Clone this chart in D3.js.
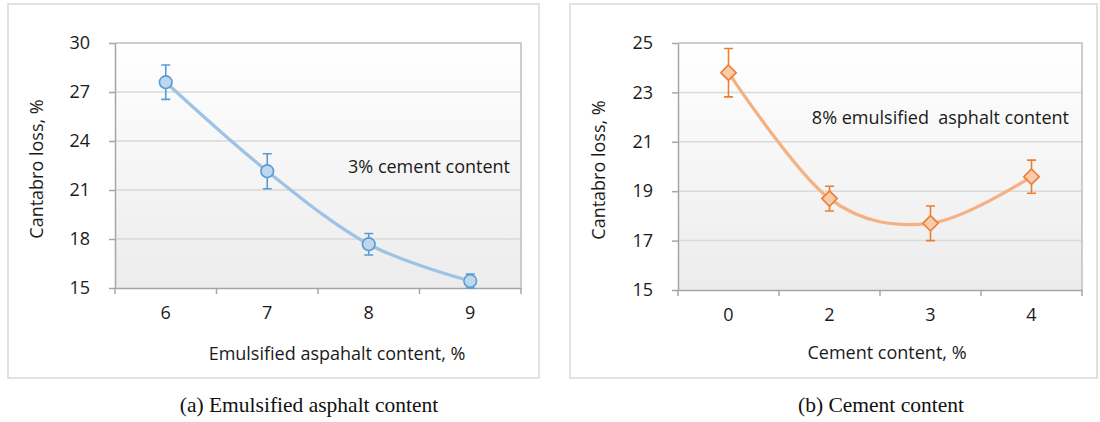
<!DOCTYPE html>
<html>
<head>
<meta charset="utf-8">
<script src="https://cdn.jsdelivr.net/npm/d3@7/dist/d3.min.js"></script>
<style>
  html, body { margin: 0; padding: 0; background: #fff; }
  svg { display: block; }
</style>
</head>
<body>
<svg id="chart" width="1100" height="422"></svg>
<script>
// Cantabro loss vs emulsified asphalt content (3% cement)
const asphaltLevels = ["6", "7", "8", "9"];
const lossByAsphalt = [27.6, 22.15, 17.68, 15.43];
const errByAsphalt = [1.05, 1.07, 0.66, 0.43];
const asphaltTicks = [15, 18, 21, 24, 27, 30];

// Cantabro loss vs cement content (8% emulsified asphalt)
const cementLevels = ["0", "2", "3", "4"];
const lossByCement = [23.8, 18.7, 17.7, 19.59];
const errByCement = [0.98, 0.5, 0.7, 0.67];
const cementTicks = [15, 17, 19, 21, 23, 25];

const svg = d3.select("#chart");
const FONT = "'Open Sans', 'Noto Sans', sans-serif";

const defs = svg.append("defs");
const grad = defs.append("linearGradient")
  .attr("id", "plotBg").attr("x1", 0).attr("y1", 0).attr("x2", 0).attr("y2", 1);
grad.append("stop").attr("offset", "0%").attr("stop-color", "#ffffff");
grad.append("stop").attr("offset", "100%").attr("stop-color", "#ececec");

function drawPanel(cfg) {
  const g = svg.append("g");

  // outer frame
  g.append("rect")
    .attr("x", cfg.frame[0]).attr("y", cfg.frame[1])
    .attr("width", cfg.frame[2]).attr("height", cfg.frame[3])
    .attr("fill", "#fff").attr("stroke", "#d9d9d9").attr("stroke-width", 1.5);

  const x = d3.scaleBand().domain(cfg.categories).range([cfg.left, cfg.right]);
  const y = d3.scaleLinear().domain(cfg.domain).range([cfg.bottom, cfg.top]);

  // plot area background
  g.append("rect")
    .attr("x", cfg.left).attr("y", cfg.top)
    .attr("width", cfg.right - cfg.left).attr("height", cfg.bottom - cfg.top)
    .attr("fill", "url(#plotBg)");

  // gridlines
  g.append("g").selectAll("line").data(cfg.ticks.slice(1, -1)).join("line")
    .attr("x1", cfg.left).attr("x2", cfg.right)
    .attr("y1", d => y(d)).attr("y2", d => y(d))
    .attr("stroke", "#d9d9d9").attr("stroke-width", 1.5);

  // top and right border of the plot area
  g.append("path")
    .attr("d", `M${cfg.left},${y(cfg.domain[1])}H${cfg.right}V${cfg.bottom}`)
    .attr("fill", "none").attr("stroke", "#bfbfbf").attr("stroke-width", 1.5);

  // y axis
  const yAxis = g.append("g").attr("transform", `translate(${cfg.left},0)`)
    .call(d3.axisLeft(y).tickValues(cfg.ticks).tickSize(6).tickPadding(19).tickSizeOuter(0));
  yAxis.select(".domain").attr("stroke", "#a6a6a6").attr("stroke-width", 1.5);
  yAxis.selectAll(".tick line").attr("stroke", "#a6a6a6").attr("stroke-width", 1.5);
  yAxis.selectAll(".tick text")
    .attr("font-family", FONT).attr("font-size", 18).attr("fill", "#1a1a1a");

  // x axis: ticks sit between categories
  const xAxis = g.append("g").attr("transform", `translate(0,${cfg.bottom})`)
    .call(d3.axisBottom(x).tickSize(0).tickPadding(18));
  xAxis.select(".domain").attr("stroke", "#a6a6a6").attr("stroke-width", 1.5);
  xAxis.selectAll(".tick text")
    .attr("font-family", FONT).attr("font-size", 18).attr("fill", "#1a1a1a");
  const bounds = cfg.categories.map(c => x(c)).concat([x.range()[1]]);
  xAxis.selectAll(".sep").data(bounds).join("line").attr("class", "sep")
    .attr("x1", d => d).attr("x2", d => d).attr("y1", 0).attr("y2", 6)
    .attr("stroke", "#a6a6a6").attr("stroke-width", 1.5);

  // axis titles
  g.append("text")
    .attr("x", cfg.xTitlePos[0]).attr("y", cfg.xTitlePos[1])
    .attr("text-anchor", "middle").attr("dominant-baseline", "central")
    .attr("font-family", FONT).attr("font-size", 18).attr("fill", "#1a1a1a")
    .text(cfg.xTitle);
  g.append("text")
    .attr("transform", `translate(${cfg.yTitlePos[0]},${cfg.yTitlePos[1]}) rotate(-90)`)
    .attr("text-anchor", "middle").attr("dominant-baseline", "central")
    .attr("font-family", FONT).attr("font-size", 18).attr("fill", "#1a1a1a")
    .text("Cantabro loss, %");

  // note inside the plot
  g.append("text")
    .attr("x", cfg.notePos[0]).attr("y", cfg.notePos[1])
    .attr("text-anchor", "end").attr("dominant-baseline", "central")
    .attr("font-family", FONT).attr("font-size", 18).attr("fill", "#1a1a1a")
    .attr("xml:space", "preserve")
    .text(cfg.note);

  const pts = cfg.categories.map((c, i) => ({
    cx: x(c) + x.bandwidth() / 2, v: cfg.values[i], e: cfg.errors[i]
  }));

  // smoothed series line
  g.append("path")
    .datum(pts)
    .attr("d", d3.line().x(d => d.cx).y(d => y(d.v)).curve(d3.curveCardinal.tension(0)))
    .attr("fill", "none").attr("stroke", cfg.lineColor).attr("stroke-width", 3.2)
    .attr("stroke-linecap", "round");

  // error bars
  const eb = g.append("g").attr("stroke", cfg.markColor).attr("stroke-width", 1.6).attr("fill", "none");
  eb.selectAll("path").data(pts).join("path")
    .attr("d", d => {
      const t = y(d.v + d.e), b = y(d.v - d.e);
      return `M${d.cx},${t}V${b}M${d.cx - 4.5},${t}H${d.cx + 4.5}M${d.cx - 4.5},${b}H${d.cx + 4.5}`;
    });

  // markers
  const sym = d3.symbol().type(cfg.symbol).size(cfg.symbolSize);
  g.append("g").selectAll("path").data(pts).join("path")
    .attr("transform", d => `translate(${d.cx},${y(d.v)})`)
    .attr("d", sym)
    .attr("fill", cfg.fillColor).attr("stroke", cfg.markColor).attr("stroke-width", 1.6);
}

drawPanel({
  frame: [8, 4, 531, 374],
  left: 115, right: 521, top: 43, bottom: 288,
  categories: asphaltLevels, values: lossByAsphalt, errors: errByAsphalt,
  domain: [15, 30], ticks: asphaltTicks,
  xTitle: "Emulsified aspahalt content, %", xTitlePos: [337, 353],
  yTitlePos: [36, 169],
  note: "3% cement content", notePos: [510, 166],
  lineColor: "#9dc3e6", markColor: "#5b9bd5", fillColor: "#bdd7ee",
  symbol: d3.symbolCircle, symbolSize: 125
});

drawPanel({
  frame: [570, 4, 527, 374],
  left: 678, right: 1082, top: 43, bottom: 290,
  categories: cementLevels, values: lossByCement, errors: errByCement,
  domain: [15, 25], ticks: cementTicks,
  xTitle: "Cement content, %", xTitlePos: [887, 352],
  yTitlePos: [598, 170],
  note: "8% emulsified  asphalt content", notePos: [1069, 117],
  lineColor: "#f4b183", markColor: "#ed7d31", fillColor: "#f8cbad",
  symbol: d3.symbolDiamond2, symbolSize: 150
});

// panel captions
svg.append("g").selectAll("text")
  .data([["(a) Emulsified asphalt content", 309], ["(b) Cement content", 881]])
  .join("text")
  .attr("x", d => d[1]).attr("y", 405)
  .attr("text-anchor", "middle").attr("dominant-baseline", "central")
  .attr("font-family", "'Liberation Serif', 'Times New Roman', serif")
  .attr("font-size", 21.5).attr("fill", "#111")
  .text(d => d[0]);
</script>
</body>
</html>
